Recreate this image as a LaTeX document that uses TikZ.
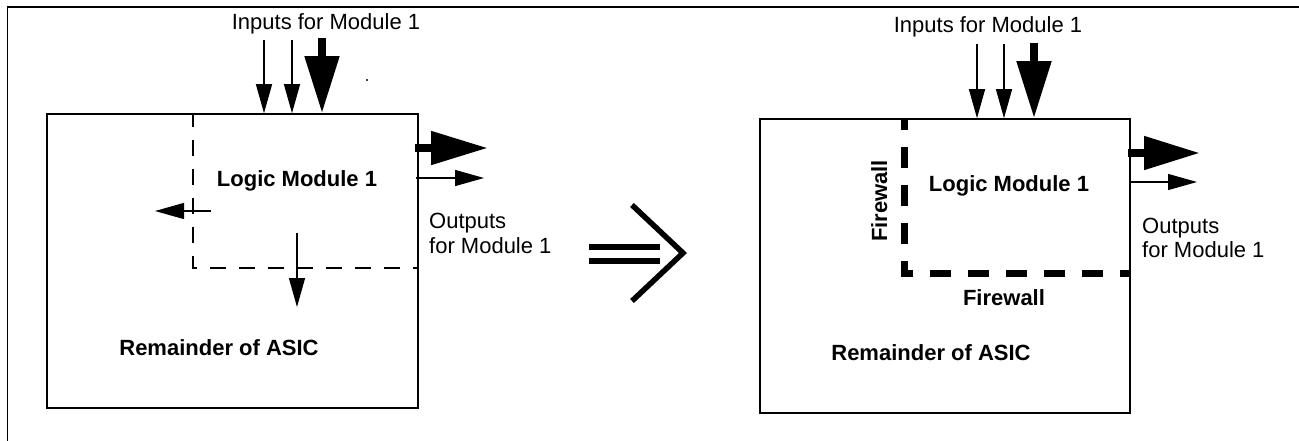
\documentclass[tikz,border=0pt]{standalone}
\usepackage{fontspec}
\setmainfont{Liberation Sans}
\usetikzlibrary{arrows.meta}

\tikzset{
  frameline/.style={line width=1.7pt},
  asicbox/.style={draw, line width=1.6pt, inner sep=0pt, rectangle},
  lbl/.style={inner sep=0pt, anchor=base, font=\fontsize{22}{25}\selectfont},
  boldlbl/.style={lbl, font=\bfseries\fontsize{22}{25}\selectfont},
  sig/.style={line width=1.3pt, -{Triangle[length=29pt,width=16pt]}},
  bus/.style={line width=8pt, -{Triangle[length=57pt,width=33pt]}},
  modborder/.style={line width=1.3pt, dash pattern=on 16pt off 13pt, dash phase=3pt},
  firewallline/.style={line width=7pt, dash pattern=on 21pt off 17pt, dash phase=10pt},
  implies/.style={line width=5.5pt}
}

\begin{document}
\begin{tikzpicture}[x=1pt, y=-1pt]
  \useasboundingbox (0,0) rectangle (1299,440);
  \clip (0,0) rectangle (1299,440);

  % surrounding frame (runs off the page on the right and at the bottom)
  \draw[frameline] (7.5,470) -- (7.5,7) -- (1330,7);

  % ---------------- left: module without firewall ----------------
  \node[asicbox, minimum width=371pt, minimum height=294pt] (asicA) at (232.5,261) {};

  \node[lbl] (inlblA) at (326,29) {Inputs for Module 1};
  \coordinate (inA1) at (264,40);
  \coordinate (inA2) at (292,40);
  \coordinate (inA3) at (322,38);
  \draw[sig] (inA1) -- (inA1 |- asicA.north);
  \draw[sig] (inA2) -- (inA2 |- asicA.north);
  \draw[bus] (inA3) -- (inA3 |- asicA.north);
  \fill (367,80) circle (1.1pt);

  % module boundary
  \coordinate (mA1) at (193,114);
  \coordinate (mA2) at (193,268);
  \draw[modborder] (mA1) -- (mA2) -- (mA2 -| asicA.east);

  \node[boldlbl] (logicA) at (297,186) {Logic Module 1};

  % leaks out of the module
  \coordinate (lkA1) at (211,211);
  \coordinate (lkA1e) at (155,211);
  \draw[sig] (lkA1) -- (lkA1e);
  \coordinate (lkA2) at (297,233);
  \coordinate (lkA2e) at (297,307);
  \draw[sig] (lkA2) -- (lkA2e);

  % outputs
  \coordinate (outA1) at (488,148);
  \coordinate (outA2) at (484,178);
  \draw[bus, -{Triangle[length=57pt,width=32pt]}] (asicA.east |- outA1) ++(-4,0) -- (outA1);
  \draw[sig] (asicA.east |- outA2) ++(-3,0) -- (outA2);
  \node[lbl, anchor=base west] (outlblA1) at (429,228) {Outputs};
  \node[lbl, anchor=base west] (outlblA2) at (429,253) {for Module 1};

  \node[boldlbl] (restA) at (219,355) {Remainder of ASIC};

  % ---------------- transformation symbol ----------------
  \draw[implies] (589,247) -- (660,247);
  \draw[implies] (589,261) -- (660,261);
  \draw[implies, miter limit=10] (632,205) -- (683,253) -- (632,301);

  % ---------------- right: module behind a firewall ----------------
  \node[asicbox, minimum width=370pt, minimum height=294pt] (asicB) at (945,266) {};

  \node[lbl] (inlblB) at (988,32) {Inputs for Module 1};
  \coordinate (inB1) at (977,44);
  \coordinate (inB2) at (1004,44);
  \coordinate (inB3) at (1034,43);
  \draw[sig] (inB1) -- (inB1 |- asicB.north);
  \draw[sig] (inB2) -- (inB2 |- asicB.north);
  \draw[bus] (inB3) -- (inB3 |- asicB.north);

  % firewall
  \coordinate (fwB1) at (904,119);
  \coordinate (fwB2) at (904,273);
  \draw[firewallline] (fwB1) -- (fwB2) -- (fwB2 -| asicB.east);

  \node[boldlbl] (logicB) at (1009,191) {Logic Module 1};
  \node[boldlbl, rotate=90] (fwlblV) at (887,201) {Firewall};
  \node[boldlbl] (fwlblH) at (1004,305) {Firewall};

  % outputs
  \coordinate (outB1) at (1200,153);
  \coordinate (outB2) at (1197,182);
  \draw[bus, -{Triangle[length=56pt,width=32pt]}] (asicB.east |- outB1) ++(-3,0) -- (outB1);
  \draw[sig] (asicB.east |- outB2) ++(-2,0) -- (outB2);
  \node[lbl, anchor=base west] (outlblB1) at (1142,233) {Outputs};
  \node[lbl, anchor=base west] (outlblB2) at (1142,257) {for Module 1};

  \node[boldlbl] (restB) at (931,360) {Remainder of ASIC};
\end{tikzpicture}
\end{document}
